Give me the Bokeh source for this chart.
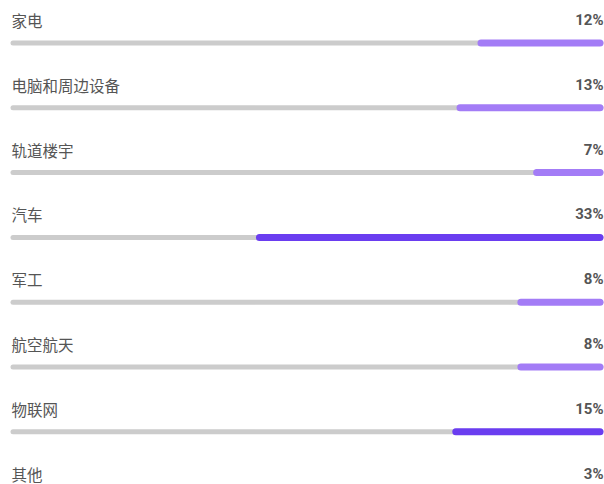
from bokeh.plotting import figure
from bokeh.models import Range1d, ColumnDataSource
from bokeh.core.properties import value
from bokeh.embed import file_html
from bokeh.resources import INLINE

# data
categories = ["家电", "电脑和周边设备", "轨道楼宇", "汽车", "军工", "航空航天", "物联网", "其他"]
share_labels = ["12%", "13%", "7%", "33%", "8%", "8%", "15%", "3%"]
bar_lengths = [12.0, 14.0, 6.7, 33.1, 8.2, 8.2, 14.4, 3.0]  # visible bar length in % units
bar_colors = ["#a37cf6", "#a37cf6", "#a37cf6", "#6a3df0", "#a37cf6", "#a37cf6", "#6a3df0", "#a37cf6"]

W, H = 604, 484
PX_PER_UNIT = 10.5
ROW_PX = 64.8

x_max = W / PX_PER_UNIT
right_end = 603 / PX_PER_UNIT
track_start = 10 / PX_PER_UNIT
cap_c = 3.5 / PX_PER_UNIT
cap_g = 2.5 / PX_PER_UNIT

p = figure(width=W, height=H, output_backend="svg", toolbar_location=None,
           x_range=Range1d(0, x_max), y_range=Range1d(H / ROW_PX, 0),
           min_border=0, outline_line_color=None)
p.axis.visible = False
p.grid.visible = False
p.background_fill_color = "white"
p.border_fill_color = "white"

n = len(categories)
rows = list(range(n))
bar_y = [r + 42.5 / ROW_PX for r in rows]
lab_y = [r + 19.5 / ROW_PX for r in rows]

src = ColumnDataSource(dict(
    cat=categories, pct=share_labels, color=bar_colors,
    by=bar_y, ly=lab_y,
    tx0=[track_start + cap_g] * n, tx1=[right_end - cap_g] * n,
    bx0=[right_end - v + cap_c for v in bar_lengths], bx1=[right_end - cap_c] * n,
    lx=[11 / PX_PER_UNIT] * n, rx=[right_end] * n,
))

p.segment(x0="tx0", y0="by", x1="tx1", y1="by", source=src,
          line_color="#cccccc", line_width=5, line_cap="round")
p.segment(x0="bx0", y0="by", x1="bx1", y1="by", source=src,
          line_color="color", line_width=7, line_cap="round")

p.text(x="lx", y="ly", text="cat", source=src, text_font=value("Noto Sans CJK SC"),
       text_font_size="15.5px", text_color="#555555", text_baseline="middle", text_align="left")
p.text(x="rx", y="ly", text="pct", source=src, text_font=value("Roboto"),
       text_font_size="15px", text_font_style="bold", text_color="#555555",
       text_baseline="middle", text_align="right")

open("out.html", "w").write(file_html(p, INLINE))
